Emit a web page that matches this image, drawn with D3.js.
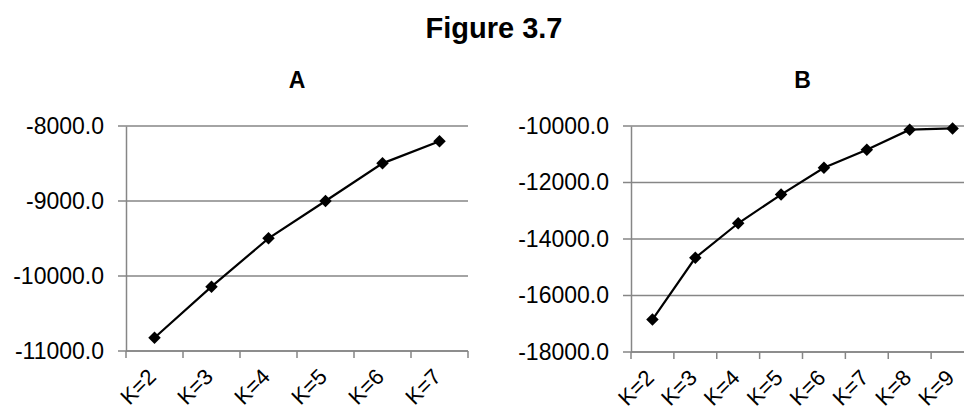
<!DOCTYPE html>
<html>
<head>
<meta charset="utf-8">
<script src="https://cdn.jsdelivr.net/npm/d3@7"></script>
<style>
  html, body { margin: 0; padding: 0; background: #fff; }
  svg { display: block; font-family: "Liberation Sans", Arial, Helvetica, sans-serif; }
</style>
</head>
<body>
<svg id="chart" width="964" height="410"></svg>
<script>
// Log-likelihood by number of clusters, two data sets
const categoriesA = ["K=2", "K=3", "K=4", "K=5", "K=6", "K=7"];
const valuesA = [-10823, -10142, -9498, -9000, -8498, -8204];
const ticksA = [-11000, -10000, -9000, -8000];

const categoriesB = ["K=2", "K=3", "K=4", "K=5", "K=6", "K=7", "K=8", "K=9"];
const valuesB = [-16851, -14665, -13443, -12428, -11480, -10841, -10131, -10085];
const ticksB = [-18000, -16000, -14000, -12000, -10000];

const svg = d3.select("#chart");
const gridColor = "#868686";

svg.append("text")
  .attr("x", 494).attr("y", 38)
  .attr("text-anchor", "middle")
  .attr("font-size", 29).attr("font-weight", "bold")
  .text("Figure 3.7");

function panel(opts) {
  const { title, cats, vals, ticks, left, right, top, bottom } = opts;
  const g = svg.append("g");

  const x = d3.scaleBand().domain(cats).range([left, right]);
  const y = d3.scaleLinear().domain([ticks[0], ticks[ticks.length - 1]]).range([bottom, top]);

  g.append("text")
    .attr("x", (left + right) / 2).attr("y", 88)
    .attr("text-anchor", "middle")
    .attr("font-size", 23).attr("font-weight", "bold")
    .text(title);

  // horizontal gridlines with short outer ticks
  g.selectAll("line.grid").data(ticks).join("line")
    .attr("class", "grid")
    .attr("x1", left - 8).attr("x2", right)
    .attr("y1", d => y(d)).attr("y2", d => y(d))
    .attr("stroke", gridColor).attr("stroke-width", 1.5);

  // value axis
  const yAxis = g.append("g")
    .attr("transform", `translate(${left},0)`)
    .call(d3.axisLeft(y).tickValues(ticks).tickSize(0).tickPadding(22));
  yAxis.select(".domain").attr("stroke", gridColor).attr("stroke-width", 1.5);
  yAxis.selectAll("text")
    .attr("font-size", 23).attr("fill", "#000")
    .attr("font-family", "Liberation Sans, Arial, sans-serif")
    .text(d => (d < 0 ? "-" : "") + Math.abs(d).toFixed(1));

  // category axis: tick marks at band boundaries
  const bounds = cats.map(c => x(c)).concat([x(cats[cats.length - 1]) + x.bandwidth()]);
  g.append("line")
    .attr("x1", left).attr("x2", right)
    .attr("y1", bottom).attr("y2", bottom)
    .attr("stroke", gridColor).attr("stroke-width", 1.5);
  g.selectAll("line.xt").data(bounds).join("line")
    .attr("class", "xt")
    .attr("x1", d => d).attr("x2", d => d)
    .attr("y1", bottom).attr("y2", bottom + 7)
    .attr("stroke", gridColor).attr("stroke-width", 1.5);

  g.selectAll("text.xl").data(cats).join("text")
    .attr("class", "xl")
    .attr("font-size", 22)
    .attr("text-anchor", "end")
    .attr("transform", d => `translate(${x(d) + x.bandwidth() / 2 + 3},${bottom + 27}) rotate(-45)`)
    .text(d => d);

  // series line and diamond markers
  const line = d3.line()
    .x((d, i) => x(cats[i]) + x.bandwidth() / 2)
    .y(d => y(d));
  g.append("path")
    .datum(vals)
    .attr("d", line)
    .attr("fill", "none").attr("stroke", "#000").attr("stroke-width", 2.2);

  const diamond = d3.symbol().type(d3.symbolDiamond2).size(100);
  g.selectAll("path.mk").data(vals).join("path")
    .attr("class", "mk")
    .attr("d", diamond)
    .attr("transform", (d, i) => `translate(${x(cats[i]) + x.bandwidth() / 2},${y(d)})`)
    .attr("fill", "#000");
}

panel({ title: "A", cats: categoriesA, vals: valuesA, ticks: ticksA,
        left: 126, right: 468, top: 126, bottom: 351 });
panel({ title: "B", cats: categoriesB, vals: valuesB, ticks: ticksB,
        left: 631, right: 974, top: 126, bottom: 352 });
</script>
</body>
</html>
